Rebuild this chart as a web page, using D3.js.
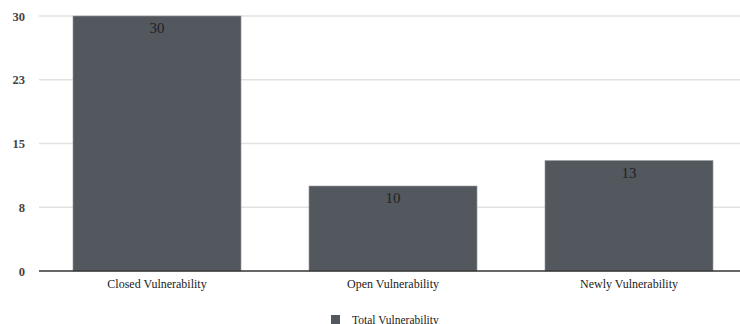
<!DOCTYPE html>
<html>
<head>
<meta charset="utf-8">
<script src="https://cdn.jsdelivr.net/npm/d3@7"></script>
<style>
  html, body { margin: 0; padding: 0; background: #fff; }
  svg { display: block; }
  svg text { font-family: "Liberation Serif", "Times New Roman", Times, "DejaVu Serif", serif; }
</style>
</head>
<body>
<svg id="chart" width="740" height="324"></svg>
<script>
// Vulnerability counts by status
const categories = ["Closed Vulnerability", "Open Vulnerability", "Newly Vulnerability"];
const values = [30, 10, 13];
const tickValues = [0, 7.5, 15, 22.5, 30];
const tickLabels = ["0", "8", "15", "23", "30"];
const seriesName = "Total Vulnerability";

const svg = d3.select("#chart");
const margin = { left: 39, top: 16, bottom: 53 };
const plotBottom = 324 - margin.bottom;

const x = d3.scaleBand()
  .domain(categories)
  .range([margin.left, 747])
  .paddingInner(0.288)
  .paddingOuter(0.144);

const y = d3.scaleLinear()
  .domain([0, 30])
  .range([plotBottom, margin.top]);

// horizontal gridlines
svg.append("g")
  .selectAll("line")
  .data(tickValues.slice(1))
  .join("line")
  .attr("x1", margin.left)
  .attr("x2", 740)
  .attr("y1", d => y(d))
  .attr("y2", d => y(d))
  .attr("stroke", "#e2e2e2")
  .attr("stroke-width", 1.5);

// y axis labels
const yAxis = d3.axisLeft(y)
  .tickValues(tickValues)
  .tickFormat((d, i) => tickLabels[i])
  .tickSize(0)
  .tickPadding(0);
svg.append("g")
  .attr("transform", `translate(25,0)`)
  .call(yAxis)
  .call(g => g.select(".domain").remove())
  .call(g => g.selectAll("text")
    .attr("font-size", 12.5)
    .attr("font-weight", "bold")
    .attr("fill", "#444")
    .attr("dy", "0.32em"));

// bars
svg.append("g")
  .selectAll("rect")
  .data(values)
  .join("rect")
  .attr("x", (d, i) => x(categories[i]))
  .attr("y", d => y(d))
  .attr("width", x.bandwidth())
  .attr("height", d => y(0) - y(d))
  .attr("fill", "#53575e")
  .attr("stroke", "#9a9da2")
  .attr("stroke-width", 0.6);

// value labels inside bar tops
svg.append("g")
  .selectAll("text")
  .data(values)
  .join("text")
  .attr("x", (d, i) => x(categories[i]) + x.bandwidth() / 2)
  .attr("y", d => y(d) + 17)
  .attr("text-anchor", "middle")
  .attr("font-size", 15)
  .attr("fill", "#222")
  .text(d => d);

// baseline
svg.append("line")
  .attr("x1", margin.left)
  .attr("x2", 740)
  .attr("y1", y(0))
  .attr("y2", y(0))
  .attr("stroke", "#333")
  .attr("stroke-width", 1.5);

// x axis labels
const xAxis = d3.axisBottom(x).tickSize(0).tickPadding(0);
svg.append("g")
  .attr("transform", `translate(0,${plotBottom})`)
  .call(xAxis)
  .call(g => g.select(".domain").remove())
  .call(g => g.selectAll("text")
    .attr("font-size", 12)
    .attr("fill", "#222")
    .attr("y", 0)
    .attr("dy", "17"));

// legend
const legend = svg.append("g").attr("transform", "translate(331,315)");
legend.append("rect")
  .attr("width", 9)
  .attr("height", 9)
  .attr("fill", "#53575e");
legend.append("text")
  .attr("x", 21)
  .attr("y", 8.5)
  .attr("font-size", 11.5)
  .attr("fill", "#222")
  .text(seriesName);
</script>
</body>
</html>
